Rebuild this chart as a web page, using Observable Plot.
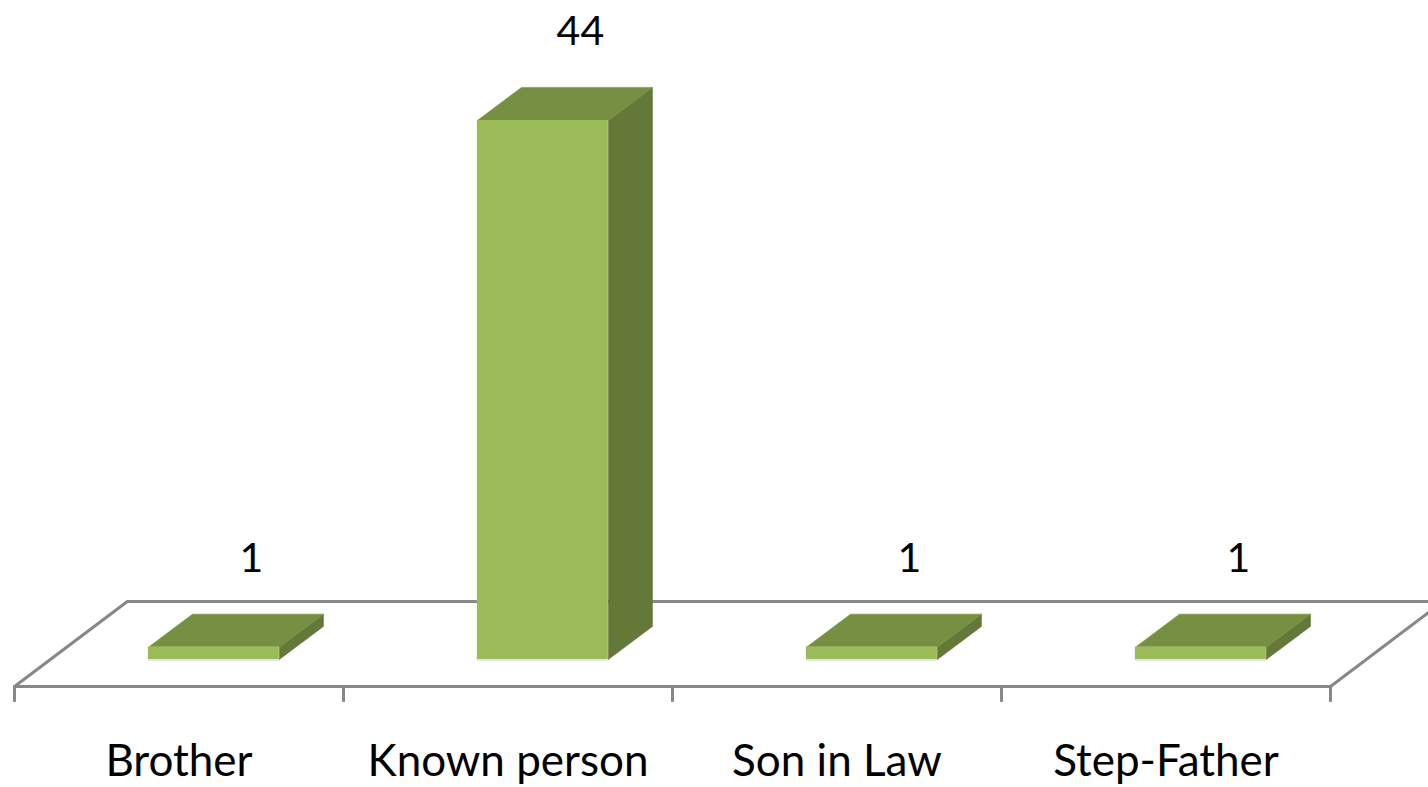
<!DOCTYPE html>
<html>
<head>
<meta charset="utf-8">
<script src="https://cdn.jsdelivr.net/npm/d3@7"></script>
<script src="https://cdn.jsdelivr.net/npm/@observablehq/plot@0.6"></script>
<style>
  html, body { margin: 0; padding: 0; background: #fff; }
  #chart svg { display: block; overflow: visible; }
</style>
</head>
<body>
<div id="chart"></div>
<script>
// ---- data ----
const categories = ["Brother", "Known person", "Son in Law", "Step-Father"];
const values = [1, 44, 1, 1];
const valueLabels = ["1", "44", "1", "1"];

// ---- 3D geometry (data units: 1 x-unit = one category band) ----
const floorFront = -2.2, floorDX = 0.343, floorDY = 6.94;
const barLeft = 0.407, barWidth = 0.398, barDX = 0.134, barDY = 2.7;

const rows = categories.map((c, i) => ({c, i, v: values[i], label: valueLabels[i]}));

const tops = [], sides = [];
rows.forEach(({i, v}) => {
  const x0 = i + barLeft, x1 = x0 + barWidth;
  [[x0, v], [x0 + barDX, v + barDY], [x1 + barDX, v + barDY], [x1, v], [x0, v]]
    .forEach(([x, y]) => tops.push({k: i, x, y}));
  [[x1, 0], [x1, v], [x1 + barDX, v + barDY], [x1 + barDX, barDY], [x1, 0]]
    .forEach(([x, y]) => sides.push({k: i, x, y}));
});
const n = categories.length;
const floor = [[0, floorFront], [floorDX, floorFront + floorDY], [n + floorDX, floorFront + floorDY], [n, floorFront], [0, floorFront]]
  .map(([x, y]) => ({x, y}));
const ticks = d3.range(n + 1);

const font = "Lato, 'Open Sans', sans-serif";
const plot = Plot.plot({
  width: 1428,
  height: 787,
  marginLeft: 14,
  marginRight: 98,
  marginTop: 120,
  marginBottom: 128,
  x: {domain: [0, n], axis: null},
  y: {domain: [0, 44], axis: null},
  style: {fontFamily: font, background: "#fff"},
  marks: [
    Plot.line(floor, {x: "x", y: "y", stroke: "#878787", strokeWidth: 3}),
    Plot.ruleX(ticks, {x: d => d, y1: floorFront, y2: floorFront - 1.3, stroke: "#878787", strokeWidth: 3}),
    Plot.line(sides, {x: "x", y: "y", z: "k", fill: "#647837", stroke: "#647837", strokeWidth: 0.6}),
    Plot.line(tops, {x: "x", y: "y", z: "k", fill: "#778f43", stroke: "#778f43", strokeWidth: 0.6}),
    Plot.rect(rows, {x1: d => d.i + barLeft, x2: d => d.i + barLeft + barWidth, y1: 0, y2: "v", fill: "#e2ead2", insetBottom: -2, stroke: "none"}),
    Plot.rect(rows, {x1: d => d.i + barLeft, x2: d => d.i + barLeft + barWidth, y1: 0, y2: "v", fill: "#9bbb59"}),
    Plot.text(rows, {x: d => d.i + 0.72, y: d => d.v + barDY + 4.5, text: "label", fontSize: 41, fill: "#000", textAnchor: "middle", lineAnchor: "middle"}),
    Plot.text(rows, {x: d => d.i + 0.5, y: -8.4, text: "c", fontSize: 44, fill: "#000", textAnchor: "middle", lineAnchor: "middle"})
  ]
});
document.getElementById("chart").appendChild(plot);
</script>
</body>
</html>
